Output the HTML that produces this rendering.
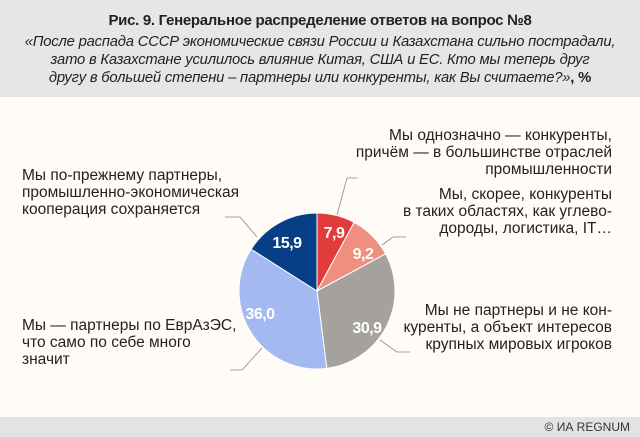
<!DOCTYPE html><html><head><meta charset="utf-8"><style>
body{margin:0;width:640px;height:437px;background:#fffbf6;font-family:"Liberation Sans",sans-serif;overflow:hidden;position:relative}
.hd{position:absolute;left:0;top:0;width:640px;height:97px;background:#e6e6e6;text-align:center;color:#222}
.t{font-weight:bold;font-size:15px;position:absolute;top:12px;width:100%;letter-spacing:-0.3px}
.s{font-style:italic;font-size:14.8px;position:absolute;top:33px;width:100%;line-height:18px;letter-spacing:-0.2px}
.ft{position:absolute;left:0;top:417px;width:640px;height:20px;background:#e3e3e3;font-size:12px;color:#333;text-align:right}
.ft span{position:absolute;right:10px;top:3px}
.l{position:absolute;font-size:15.5px;line-height:17px;color:#222;white-space:nowrap}
.r{text-align:right;right:28px}
</style></head><body>
<div class="hd"><div class="t">Рис. 9. Генеральное распределение ответов на вопрос №8</div>
<div class="s">«После распада СССР экономические связи России и Казахстана сильно пострадали,<br>зато в Казахстане усилилось влияние Китая, США и ЕС. Кто мы теперь друг<br>другу в большей степени – партнеры или конкуренты, как Вы считаете?»<b style="font-style:normal">, %</b></div></div>
<svg width="640" height="437" style="position:absolute;left:0;top:0">
<g stroke="#fff" stroke-width="1">
<path d="M317,291 L317,213 A78,78 0 0 1 354.15,222.41 Z" fill="#e23b3b"/>
<path d="M317,291 L354.15,222.41 A78,78 0 0 1 385.59,253.86 Z" fill="#ee8f7f"/>
<path d="M317,291 L385.59,253.86 A78,78 0 0 1 326.78,368.39 Z" fill="#a5a29e"/>
<path d="M317,291 L326.78,368.39 A78,78 0 0 1 251.14,249.21 Z" fill="#a3b9f0"/>
<path d="M317,291 L251.14,249.21 A78,78 0 0 1 317,213 Z" fill="#063f85"/>
</g>
<g stroke="#888" fill="none" stroke-width="0.8">
<polyline points="337,215 347,178 357,178"/>
<polyline points="382,245 393,237 406,237"/>
<polyline points="380,340 397,352 410,352"/>
<polyline points="262,348 242,370 230,370"/>
<polyline points="257,237 240,217 225,217"/>
</g>
<g fill="#fff" font-family="Liberation Sans,sans-serif" font-weight="bold" font-size="16" text-anchor="middle" letter-spacing="-0.5">
<text x="334" y="238">7,9</text>
<text x="363" y="259">9,2</text>
<text x="367" y="333">30,9</text>
<text x="260" y="319">36,0</text>
<text x="287" y="248">15,9</text>
</g></svg>
<div class="l r" style="top:127px">Мы однозначно — конкуренты,<br>причём — в большинстве отраслей<br>промышленности</div>
<div class="l r" style="top:186px">Мы, скорее, конкуренты<br>в таких областях, как углево-<br>дороды, логистика, IT…</div>
<div class="l r" style="top:302px">Мы не партнеры и не кон-<br>куренты, а объект интересов<br>крупных мировых игроков</div>
<div class="l" style="left:22px;top:167px">Мы по-прежнему партнеры,<br>промышленно-экономическая<br>кооперация сохраняется</div>
<div class="l" style="left:22px;top:317px">Мы — партнеры по ЕврАзЭС,<br>что само по себе много<br>значит</div>
<div class="ft"><span>© ИА REGNUM</span></div>
</body></html>
